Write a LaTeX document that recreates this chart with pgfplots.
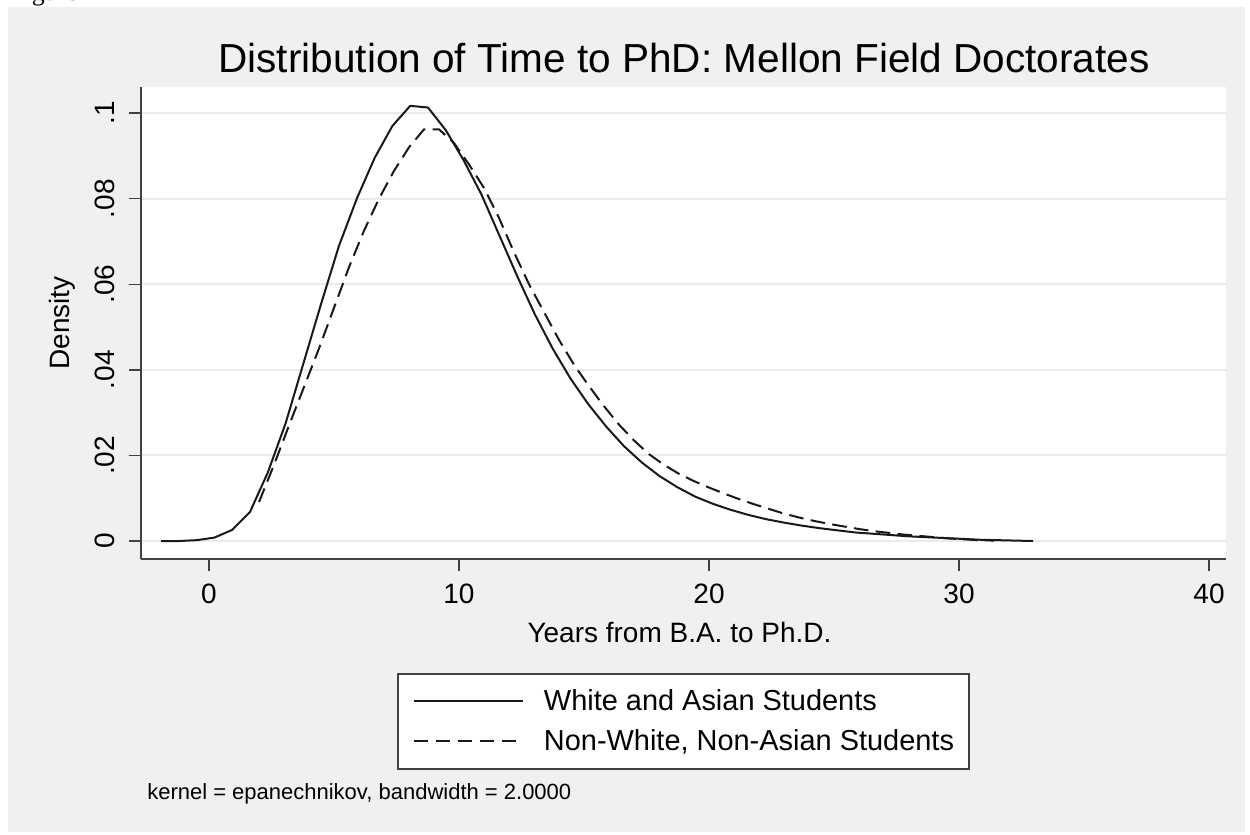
\documentclass[border=0pt]{standalone}
\usepackage{pgfplots}
\pgfplotsset{compat=1.18}
\usepackage{pgfplotstable}
\usepackage{graphicx}
\usepackage{fontspec}
\setmainfont{Liberation Sans}
\newfontfamily\seriffont{Liberation Serif}
\definecolor{panelgray}{RGB}{240,240,240}
\definecolor{gridgray}{RGB}{234,234,234}
\definecolor{axisgray}{RGB}{64,64,64}
\definecolor{curve}{RGB}{25,25,25}

\pgfplotstableread{
x y
-1.920 0
-1.208 0
-0.496 0.0002
0.216 0.0008
0.928 0.0026
1.640 0.0068
2.352 0.0160
3.064 0.0275
3.776 0.0415
4.488 0.0555
5.200 0.0690
5.912 0.0800
6.624 0.0895
7.336 0.0970
8.048 0.1017
8.760 0.1013
9.472 0.0960
10.184 0.0890
10.896 0.0810
11.608 0.0715
12.320 0.0620
13.032 0.0530
13.744 0.0450
14.456 0.0380
15.168 0.0320
15.880 0.0268
16.592 0.0222
17.304 0.0184
18.016 0.0152
18.728 0.0126
19.440 0.0104
20.152 0.0087
20.864 0.0073
21.576 0.0061
22.288 0.0051
23.000 0.0043
23.712 0.0036
24.424 0.0030
25.136 0.0025
25.848 0.0020
26.560 0.0017
27.272 0.0014
27.984 0.0011
28.696 0.0009
29.408 0.0007
30.120 0.0005
30.832 0.0003
31.544 0.0002
32.256 0.0001
32.968 0.0000
}\solid

\pgfplotstableread{
x y
2.0 0.0091
2.6 0.0178
3.2 0.0270
3.8 0.0360
4.4 0.0450
5.0 0.0545
5.6 0.0640
6.2 0.0725
6.8 0.0800
7.4 0.0865
8.0 0.0920
8.6 0.0962
9.2 0.0962
9.8 0.0930
10.4 0.0880
11.0 0.0825
11.6 0.0755
12.2 0.0675
12.8 0.0600
13.4 0.0535
14.0 0.0470
14.6 0.0412
15.2 0.0362
15.8 0.0315
16.4 0.0272
17.0 0.0235
17.6 0.0203
18.2 0.0178
18.8 0.0157
19.4 0.0140
20.0 0.0125
20.6 0.0111
21.2 0.0098
21.8 0.0086
22.4 0.0075
23.0 0.0064
23.6 0.0055
24.2 0.0047
24.8 0.0040
25.4 0.0034
26.0 0.0028
26.6 0.0023
27.2 0.0019
27.8 0.0015
28.4 0.0012
29.0 0.0009
29.6 0.0006
30.2 0.0004
30.8 0.0002
31.4 0.0001
}\dashed

\begin{document}
\begin{tikzpicture}
\useasboundingbox (0,0) rectangle (937.5pt,626.25pt);
\fill[white] (0,0) rectangle (937.5pt,626.25pt);
\fill[panelgray] (6pt,2.25pt) rectangle (933.75pt,621pt);
\begin{scope}
\clip (0,0) rectangle (937.5pt,626.25pt);
\node[anchor=base west, inner sep=0pt, font=\seriffont\fontsize{19.5}{20}\selectfont] at (7.5pt,626pt) {Figure};
\end{scope}
\node[anchor=base, inner sep=0pt, font=\fontsize{30.4}{35}\selectfont] at (513pt,571.5pt) {Distribution of Time to PhD: Mellon Field Doctorates};
\node[anchor=base west, inner sep=0pt, font=\fontsize{16.5}{19}\selectfont] at (110.25pt,26.25pt) {kernel = epanechnikov, bandwidth = 2.0000};
\begin{axis}[
  scale only axis, width=813.75pt, height=354pt,
  at={(105.75pt,207pt)}, anchor=south west,
  xmin=-2.72, xmax=40.68, ymin=-0.0042, ymax=0.1061,
  axis x line*=bottom, axis y line*=left,
  axis line style={axisgray, line width=1.5pt, -},
  axis background/.style={fill=white},
  xtick={0,10,20,30,40},
  ytick={0,0.02,0.04,0.06,0.08,0.1},
  yticklabels={0,.02,.04,.06,.08,.1},
  scaled y ticks=false,
  tick align=outside,
  major tick length=9pt,
  tick style={axisgray, line width=1.1pt},
  ymajorgrids, grid style={gridgray, line width=1.5pt},
  /pgf/number format/assume math mode=true,
  ticklabel style={font=\fontsize{21}{25}\selectfont},
  xticklabel style={yshift=-6pt},
  yticklabel style={xshift=-10.5pt, rotate=90, anchor=base},
  xlabel={Years from B.A. to Ph.D.}, ylabel={Density},
  label style={font=\fontsize{21}{25}\selectfont},
  xlabel style={at={(axis description cs:0.4963,0)}, anchor=base, yshift=-63pt},
  ylabel style={at={(axis description cs:-0.0728,0.5)}, anchor=center},
  legend style={at={(axis description cs:0.2359,-0.2415)}, anchor=north west,
    draw=axisgray, line width=1.5pt, fill=white, font=\fontsize{21.7}{26}\selectfont,
    inner xsep=11pt, inner ysep=12pt, row sep=12.6pt, nodes={inner sep=0pt},
    /tikz/every odd column/.append style={column sep=15pt}},
  legend cell align=left,
  legend image code/.code={\draw[#1] (0pt,0pt) -- (82pt,0pt);},
]
\addplot[curve, line width=1.5pt, line join=round] table {\solid};
\addlegendentry{White and Asian Students}
\addplot[curve, line width=1.5pt, line join=round, dash pattern=on 11pt off 5.5pt] table {\dashed};
\addlegendentry{Non-White, Non-Asian Students}
\end{axis}
\end{tikzpicture}
\end{document}
